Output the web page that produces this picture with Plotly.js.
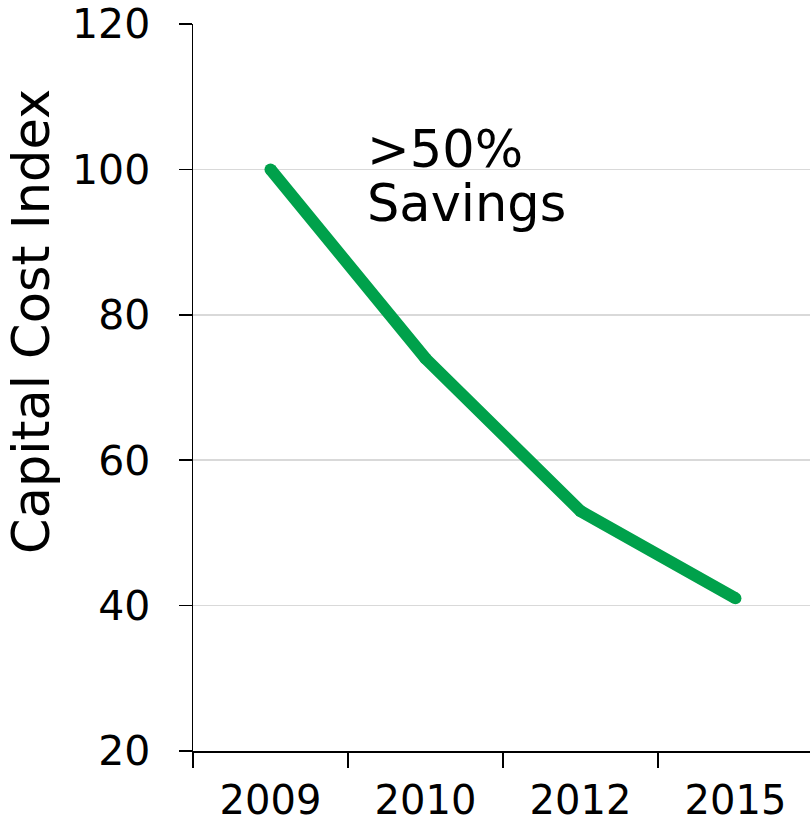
<!DOCTYPE html>
<html>
<head>
<meta charset="utf-8">
<script src="https://cdn.plot.ly/plotly-3.0.1.min.js"></script>
<style>
  html, body { margin: 0; padding: 0; background: #ffffff; }
  #chart { width: 810px; height: 828px; }
</style>
</head>
<body>
<div id="chart"></div>
<script>
// Capital cost index by year (2009 = 100)
const years = ["2009", "2010", "2012", "2015"];
const costIndex = [100, 74, 53, 41];
const yTicks = [20, 40, 60, 80, 100, 120];

const fontFamily = "DejaVu Sans, Verdana, sans-serif";
const green = "#00a14b";

const trace = {
  type: "scatter",
  mode: "lines+markers",
  x: years,
  y: costIndex,
  line: { color: green, width: 12, shape: "linear" },
  marker: { color: green, size: 12, line: { width: 0 } },
  hoverinfo: "skip",
  showlegend: false
};

const layout = {
  width: 810,
  height: 828,
  margin: { l: 193, r: 0, t: 24, b: 77, pad: 0 },
  paper_bgcolor: "#ffffff",
  plot_bgcolor: "#ffffff",
  font: { family: fontFamily, color: "#000000", size: 40 },
  xaxis: {
    type: "category",
    range: [-0.5, 3.481],
    tickson: "boundaries",
    ticks: "outside",
    ticklen: 15,
    tickwidth: 1.5,
    tickcolor: "#000000",
    showline: true,
    linecolor: "#000000",
    linewidth: 1.5,
    showgrid: false,
    zeroline: false,
    ticklabelstandoff: 13,
    tickfont: { family: fontFamily, size: 40, color: "#000000" }
  },
  yaxis: {
    range: [20, 120],
    tickvals: yTicks,
    ticks: "outside",
    ticklen: 13,
    tickwidth: 1.5,
    tickcolor: "#000000",
    showline: true,
    linecolor: "#000000",
    linewidth: 1.5,
    showgrid: true,
    gridcolor: "#d9d9d9",
    gridwidth: 1.5,
    zeroline: false,
    ticklabelstandoff: 20,
    tickfont: { family: fontFamily, size: 41, color: "#000000" }
  },
  annotations: [
    {
      // vertical axis title, set above the plot's centre line
      xref: "paper",
      yref: "paper",
      x: -0.261,
      y: 0.5915,
      xanchor: "center",
      yanchor: "middle",
      textangle: -90,
      showarrow: false,
      text: "Capital Cost Index",
      font: { family: fontFamily, size: 51, color: "#000000" }
    },
    {
      xref: "x",
      yref: "y",
      x: 0.61,
      y: 102.8,
      xanchor: "left",
      yanchor: "middle",
      showarrow: false,
      text: ">50%",
      font: { family: fontFamily, size: 51, color: "#000000" }
    },
    {
      xref: "x",
      yref: "y",
      x: 0.61,
      y: 95.3,
      xanchor: "left",
      yanchor: "middle",
      showarrow: false,
      text: "Savings",
      font: { family: fontFamily, size: 51, color: "#000000" }
    }
  ]
};

Plotly.newPlot("chart", [trace], layout, { displayModeBar: false, staticPlot: true });
</script>
</body>
</html>
